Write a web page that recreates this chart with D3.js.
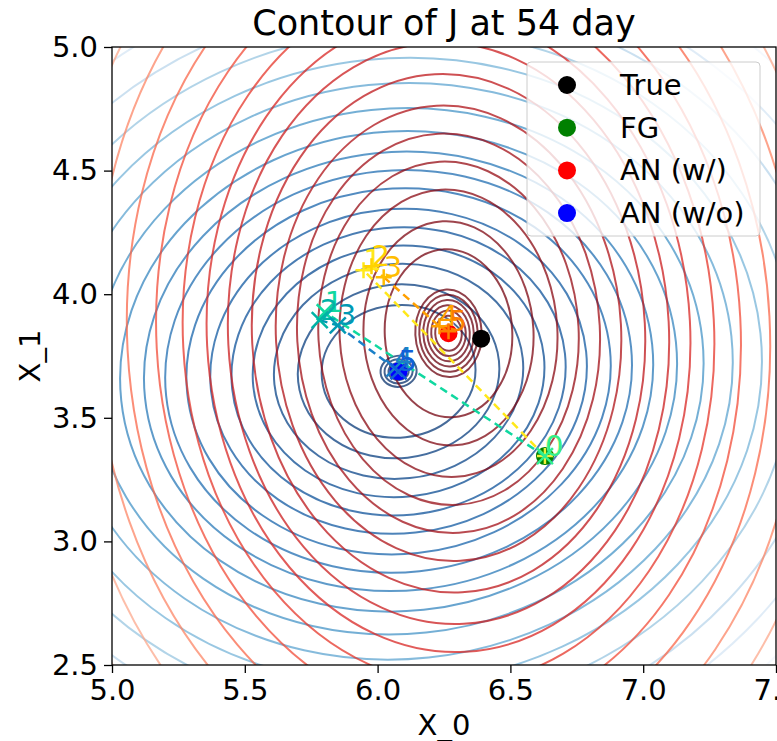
<!doctype html>
<html lang="en">
<head>
<meta charset="utf-8">
<title>Contour of J</title>
<script src="https://cdn.jsdelivr.net/npm/d3@7"></script>
<style>
  body { margin: 0; background: #fff; }
  text { font-family: "DejaVu Sans", sans-serif; }
</style>
</head>
<body>
<script>
// centres of the two cost functions (data units)
var centreWith = [6.267, 3.842];
var centreWithout = [6.079, 3.688];

// contour levels, read as the x semi-axis of each ring (data units)
var levelsWith = [0.05, 0.065, 0.08, 0.095, 0.11, 0.125, 0.24, 0.32, 0.41, 0.49, 0.57, 0.65, 0.74, 0.83, 0.91, 1.0, 1.1, 1.21, 1.33, 1.46, 1.6, 1.76];
var levelsWithout = [0.038, 0.053, 0.068, 0.29, 0.38, 0.47, 0.55, 0.63, 0.71, 0.80, 0.88, 0.96, 1.05, 1.15, 1.26, 1.37, 1.49, 1.62, 1.76, 1.92];

// scatter points
var pointNames = ["True", "FG", "AN (w/)", "AN (w/o)"];
var pointX = [6.39, 6.63, 6.267, 6.079];
var pointY = [3.82, 3.345, 3.842, 3.688];
var pointColors = ["black", "green", "red", "blue"];

// iterations of the minimisation
var iterLabels = ["0", "1", "2", "3", "4", "5"];
var iterWithX = [6.63, 5.947, 5.977, 6.023, 6.233, 6.267];
var iterWithY = [3.345, 4.097, 4.113, 4.069, 3.870, 3.850];
var iterWithoutX = [6.63, 5.801, 5.782, 5.850, 6.064, 6.079];
var iterWithoutY = [3.345, 3.927, 3.895, 3.874, 3.700, 3.688];

var xTicks = [5.0, 5.5, 6.0, 6.5, 7.0, 7.5];
var yTicks = [2.5, 3.0, 3.5, 4.0, 4.5, 5.0];

var W = 777, H = 741;
var pL = 112, pR = 776, pT = 47, pB = 665;

var x = d3.scaleLinear().domain([5, 7.5]).range([pL, pR]);
var y = d3.scaleLinear().domain([2.5, 5]).range([pB, pT]);

var svg = d3.select("body").append("svg")
    .attr("width", W)
    .attr("height", H);

svg.append("clipPath").attr("id", "plotclip")
   .append("rect")
   .attr("x", pL).attr("y", pT)
   .attr("width", pR - pL).attr("height", pB - pT);

var plot = svg.append("g").attr("clip-path", "url(#plotclip)");

function drawRings(levels, centre, aspect, rot, interp) {
    var aMax = d3.max(levels);
    var cx = x(centre[0]), cy = y(centre[1]);
    plot.append("g")
        .selectAll("ellipse")
        .data(levels)
        .enter()
        .append("ellipse")
        .attr("transform", "translate(" + cx + "," + cy + ") rotate(" + rot + ")")
        .attr("rx", d => x(centre[0] + d) - cx)
        .attr("ry", d => (x(centre[0] + d) - cx) * aspect)
        .attr("fill", "none")
        .attr("stroke", d => interp(1 - 0.97 * Math.pow(d / aMax, 1.8)))
        .attr("stroke-opacity", 0.75)
        .attr("stroke-width", 2);
}

drawRings(levelsWithout, centreWithout, 0.86, -6, d3.interpolateBlues);
drawRings(levelsWith, centreWith, 1.32, -3, d3.interpolateReds);

// scatter points
plot.selectAll("circle.pt")
    .data(pointX)
    .enter()
    .append("circle")
    .attr("class", "pt")
    .attr("cx", d => x(d))
    .attr("cy", (d, i) => y(pointY[i]))
    .attr("r", 9)
    .attr("fill", (d, i) => pointColors[i]);

var wistia = ["#eef03a", "#ffe81a", "#ffd200", "#ffbd00", "#ffa000", "#fc7f00"];
var winter = ["#30f090", "#10d8a0", "#00b3a6", "#0099b3", "#1a80c8", "#1060d8"];

function drawTrack(xs, ys, colors, marker) {
    var g = plot.append("g");
    // dashed segments
    for (var i = 0; i < xs.length - 1; i++) {
        g.append("line")
         .attr("x1", x(xs[i])).attr("y1", y(ys[i]))
         .attr("x2", x(xs[i + 1])).attr("y2", y(ys[i + 1]))
         .attr("stroke", colors[i + 1])
         .attr("stroke-width", 2.5)
         .attr("stroke-dasharray", "8,5");
    }
    var s = 8;
    xs.forEach(function(d, i) {
        var px = x(d), py = y(ys[i]);
        var path = marker === "+"
            ? "M" + (px - s) + "," + py + "H" + (px + s) + "M" + px + "," + (py - s) + "V" + (py + s)
            : "M" + (px - s) + "," + (py - s) + "L" + (px + s) + "," + (py + s) + "M" + (px - s) + "," + (py + s) + "L" + (px + s) + "," + (py - s);
        g.append("path")
         .attr("d", path)
         .attr("stroke", colors[i])
         .attr("stroke-width", 2.5)
         .attr("fill", "none");
        g.append("text")
         .attr("x", px)
         .attr("y", py)
         .attr("font-size", 29)
         .attr("fill", colors[i])
         .text(iterLabels[i]);
    });
}

drawTrack(iterWithX, iterWithY, wistia, "+");
drawTrack(iterWithoutX, iterWithoutY, winter, "x");

// axes
var xAxis = svg.append("g")
    .attr("transform", "translate(0," + pB + ")")
    .call(d3.axisBottom(x).tickValues(xTicks).tickFormat(d3.format(".1f")).tickSize(8).tickPadding(6));
var yAxis = svg.append("g")
    .attr("transform", "translate(" + pL + ",0)")
    .call(d3.axisLeft(y).tickValues(yTicks).tickFormat(d3.format(".1f")).tickSize(8).tickPadding(6));
[xAxis, yAxis].forEach(function(a) {
    a.select(".domain").remove();
    a.selectAll("line").attr("stroke", "black").attr("stroke-width", 1.3);
    a.selectAll("text").attr("font-size", 29).attr("font-family", "DejaVu Sans").attr("fill", "black");
});

svg.append("rect")
   .attr("x", pL).attr("y", pT)
   .attr("width", pR - pL).attr("height", pB - pT)
   .attr("fill", "none")
   .attr("stroke", "black")
   .attr("stroke-width", 1.3);

svg.append("text")
   .attr("x", (pL + pR) / 2)
   .attr("y", 35)
   .attr("text-anchor", "middle")
   .attr("font-size", 35)
   .text("Contour of J at 54 day");

svg.append("text")
   .attr("x", (pL + pR) / 2)
   .attr("y", 735)
   .attr("text-anchor", "middle")
   .attr("font-size", 29)
   .text("X_0");

svg.append("text")
   .attr("transform", "translate(40," + (pT + pB) / 2 + ") rotate(-90)")
   .attr("text-anchor", "middle")
   .attr("font-size", 29)
   .text("X_1");

// legend
var legend = svg.append("g").attr("transform", "translate(527,62)");
legend.append("rect")
      .attr("width", 233).attr("height", 174)
      .attr("rx", 4)
      .attr("fill", "white").attr("fill-opacity", 0.8)
      .attr("stroke", "#cccccc");
var row = legend.selectAll("g.row")
    .data(pointNames)
    .enter()
    .append("g")
    .attr("class", "row")
    .attr("transform", (d, i) => "translate(0," + (23 + i * 42.7) + ")");
row.append("circle")
   .attr("cx", 40).attr("r", 9)
   .attr("fill", (d, i) => pointColors[i]);
row.append("text")
   .attr("x", 93).attr("y", 10)
   .attr("font-size", 29)
   .text(d => d);
</script>
</body>
</html>
